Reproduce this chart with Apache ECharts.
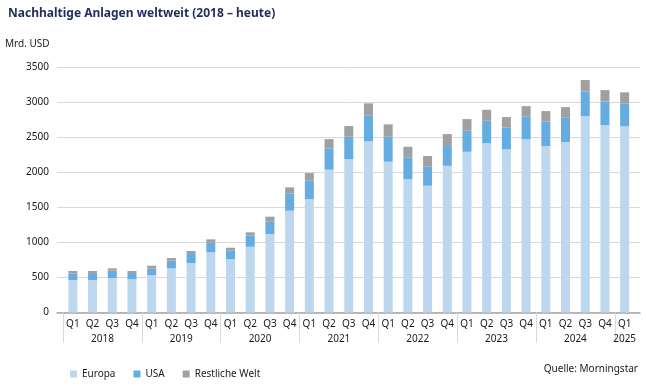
<!DOCTYPE html>
<html>
<head>
<meta charset="utf-8">
<script src="https://cdn.jsdelivr.net/npm/echarts@6/dist/echarts.min.js"></script>
<style>
  html, body { margin: 0; padding: 0; background: #fff; }
  #chart { width: 646px; height: 388px; }
</style>
</head>
<body>
<div id="chart"></div>
<script>
// Werte in Mrd. USD, je Quartal Q1 2018 .. Q1 2025
var years = ['2018', '2019', '2020', '2021', '2022', '2023', '2024', '2025'];
var quarterNames = ['Q1', 'Q2', 'Q3', 'Q4'];
var europa = [463, 463, 491, 473, 530, 629, 705, 857, 762, 937, 1118, 1450, 1616, 2034, 2186, 2442,
              2148, 1901, 1806, 2090, 2290, 2414, 2328, 2466, 2371, 2428, 2798, 2670, 2652];
var usa = [95, 99, 105, 89, 94, 109, 128, 137, 123, 163, 175, 247, 266, 304, 323, 361,
           356, 304, 276, 295, 299, 317, 309, 328, 351, 346, 352, 335, 328];
var restWelt = [33, 29, 33, 29, 43, 38, 43, 48, 38, 42, 72, 86, 104, 132, 147, 176,
                176, 156, 147, 157, 166, 157, 147, 146, 147, 152, 161, 163, 156];

var font = 'Noto Sans';
var quarters = [];
for (var i = 0; i < europa.length; i++) quarters.push(quarterNames[i % 4]);

// halbe Quartalsschritte fuer die Jahreszeile (Punkte auf den Grenzen)
var yearSlots = [];
for (var k = 0; k <= quarters.length * 2; k++) yearSlots.push('');
for (var j = 0; j < years.length; j++) {
    var n = Math.min(4, quarters.length - j * 4);
    yearSlots[j * 8 + n] = years[j];
}

var myChart = echarts.init(document.getElementById('chart'));

var option = {
    animation: false,
    textStyle: { fontFamily: font },
    title: {
        text: 'Nachhaltige Anlagen weltweit (2018 – heute)',
        left: 3,
        top: 3,
        textStyle: { fontFamily: font, fontSize: 12, fontWeight: 'bold', color: '#1f2d5c' }
    },
    graphic: [
        { type: 'text', left: 5, top: 39, style: { text: 'Mrd. USD', fontFamily: font, fontSize: 10, fill: '#1a1a1a' } },
        { type: 'text', right: 8, top: 364, style: { text: 'Quelle: Morningstar', fontFamily: font, fontSize: 10, fill: '#1a1a1a' } }
    ],
    legend: {
        left: 65,
        top: 364,
        icon: 'rect',
        itemWidth: 7,
        itemHeight: 7,
        itemGap: 18,
        textStyle: { fontFamily: font, fontSize: 10, color: '#1a1a1a' },
        data: ['Europa', 'USA', 'Restliche Welt']
    },
    grid: [
        { left: 57, right: 6, top: 66.8, bottom: 75.5 },
        { left: 63, right: 11.5, top: 66.8, bottom: 75.5 }
    ],
    xAxis: [
        {
            gridIndex: 0, type: 'value', min: 0, max: 1,
            axisLine: { show: true, lineStyle: { color: '#a6a6a6', width: 1.5 } },
            axisTick: { show: false }, axisLabel: { show: false }, splitLine: { show: false }
        },
        {
            gridIndex: 1, type: 'category', data: quarters,
            axisLine: { show: false }, axisTick: { show: false },
            axisLabel: { interval: 0, margin: 7, fontFamily: font, fontSize: 10, color: '#1a1a1a' }
        },
        {
            gridIndex: 1, type: 'category', data: yearSlots, boundaryGap: false, position: 'bottom',
            axisLine: { show: false },
            axisTick: {
                show: true, length: 30, inside: false,
                interval: function (idx) { return idx % 8 === 0 && idx < yearSlots.length - 1; },
                lineStyle: { color: '#d9d9d9', width: 1 }
            },
            axisLabel: {
                margin: 22, fontFamily: font, fontSize: 10, color: '#1a1a1a',
                interval: function (idx, val) { return val !== ''; }
            }
        }
    ],
    yAxis: [
        {
            gridIndex: 0, type: 'value', min: 0, max: 3500, interval: 500,
            axisLine: { show: false }, axisTick: { show: false },
            axisLabel: {
                margin: 8, fontFamily: font, fontSize: 10, color: '#1a1a1a',
                formatter: function (v) { return String(v); }
            },
            splitLine: { lineStyle: { color: '#d9d9d9', width: 1 } }
        },
        {
            gridIndex: 1, type: 'value', min: 0, max: 3500, interval: 500,
            axisLine: { show: false }, axisTick: { show: false },
            axisLabel: { show: false }, splitLine: { show: false }
        }
    ],
    series: [
        { name: 'Europa', type: 'bar', stack: 'a', xAxisIndex: 1, yAxisIndex: 1, barWidth: 9, data: europa, itemStyle: { color: '#bdd7ee' } },
        { name: 'USA', type: 'bar', stack: 'a', xAxisIndex: 1, yAxisIndex: 1, barWidth: 9, data: usa, itemStyle: { color: '#64ace1' } },
        { name: 'Restliche Welt', type: 'bar', stack: 'a', xAxisIndex: 1, yAxisIndex: 1, barWidth: 9, data: restWelt, itemStyle: { color: '#a0a0a0' } }
    ]
};
myChart.setOption(option);
</script>
</body>
</html>
